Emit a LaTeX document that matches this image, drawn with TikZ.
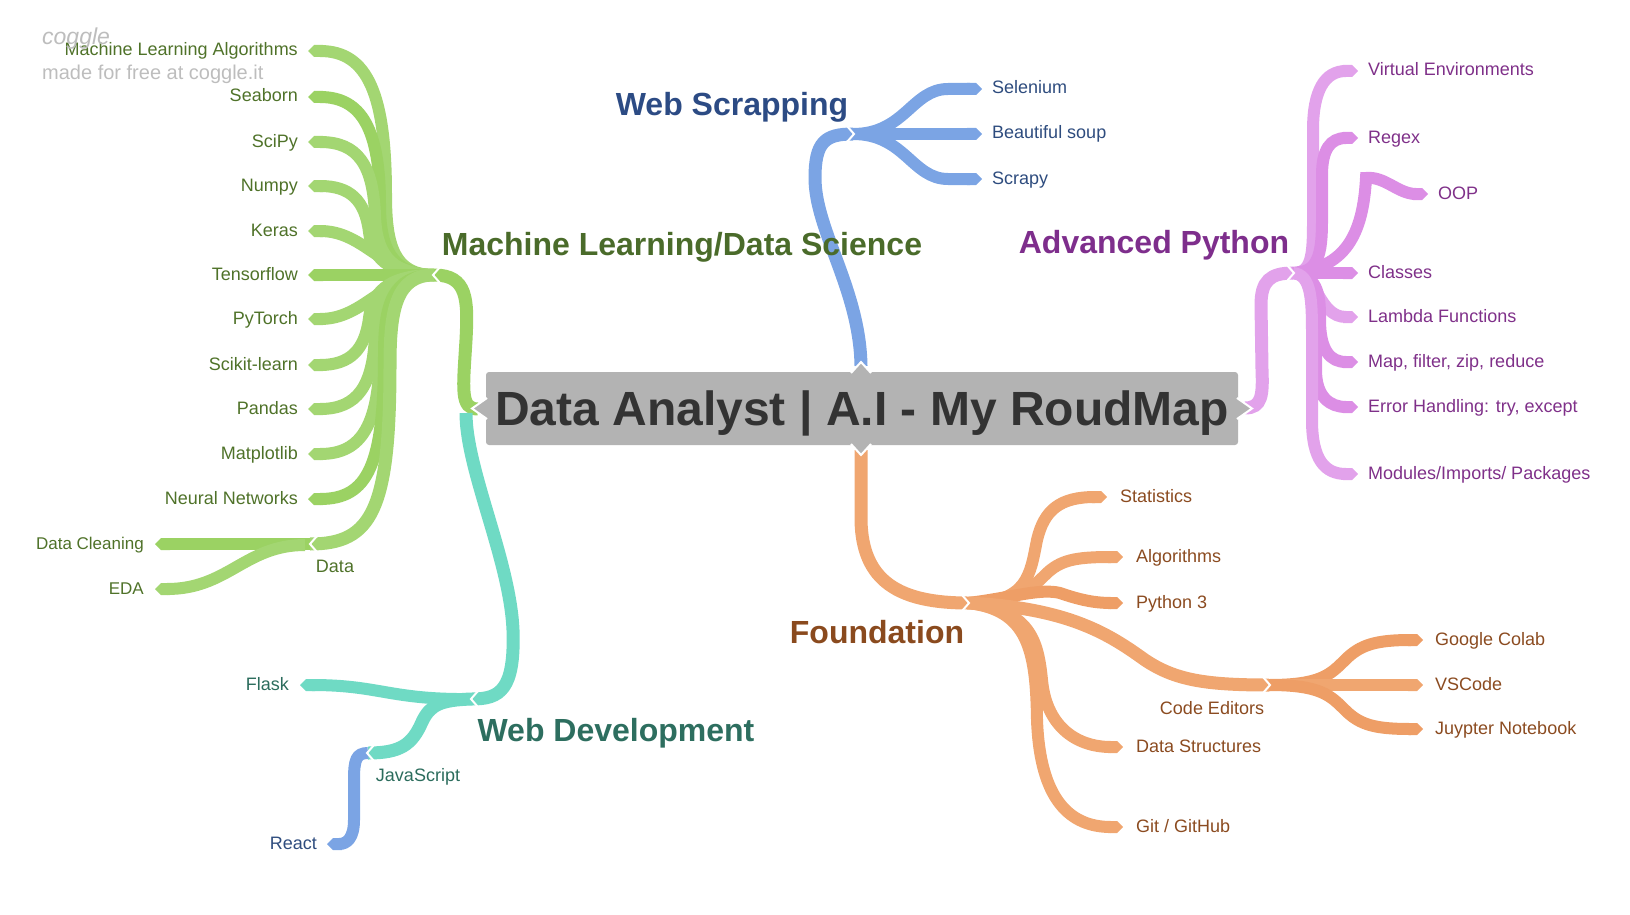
\documentclass[tikz,border=0pt]{standalone}
\usepackage{fontspec}
\setmainfont{Liberation Sans}
\usetikzlibrary{arrows.meta}
\definecolor{mlA}{HTML}{A3D672}
\definecolor{mlB}{HTML}{9BD263}
\definecolor{mltext}{HTML}{4F7229}
\definecolor{mlhead}{HTML}{4A6B2A}
\definecolor{wsA}{HTML}{7BA4E4}
\definecolor{wstext}{HTML}{2E4C7E}
\definecolor{wshead}{HTML}{2C4B84}
\definecolor{apA}{HTML}{E2A2EB}
\definecolor{apB}{HTML}{DC8EE5}
\definecolor{aptext}{HTML}{7F3089}
\definecolor{aphead}{HTML}{7E2E8C}
\definecolor{foA}{HTML}{F0A670}
\definecolor{foB}{HTML}{EE9E66}
\definecolor{fotext}{HTML}{8B4B20}
\definecolor{fohead}{HTML}{8A4A1E}
\definecolor{wdA}{HTML}{6FDAC4}
\definecolor{wdtext}{HTML}{2B6C5C}
\definecolor{wdhead}{HTML}{2D6E5F}
\definecolor{boxgray}{HTML}{B3B3B3}
\definecolor{titlec}{HTML}{333333}
\definecolor{wm}{HTML}{BDBDBD}
\begin{document}
\begin{tikzpicture}[x=1pt,y=-1pt,
  trunk/.style={line width=13pt,line cap=butt},
  leafline/.style={line width=12pt,line cap=butt,-{Triangle Cap[]}},
  lbl/.style={font=\fontsize{18}{20}\selectfont,inner sep=0pt},
  head/.style={font=\bfseries\fontsize{32}{36}\selectfont,inner sep=0pt},
  notch/.style={draw=white,line width=2pt,line join=miter}]
\useasboundingbox (0,0) rectangle (1630,915);

% ---------- coordinates ----------
\coordinate (rootL) at (478,409);
\coordinate (rootL2) at (466,413);
\coordinate (rootR) at (1245,408);
\coordinate (rootT) at (861,366);
\coordinate (rootB) at (861,450);
\coordinate (mlhub) at (434,275);
\coordinate (datahub) at (310,544);
\coordinate (wshub) at (853,134);
\coordinate (aphub) at (1293,273);
\coordinate (fohub) at (968,603);
\coordinate (cehub) at (1269,685);
\coordinate (wdhub) at (472,699);
\coordinate (jshub) at (368,753);

% ---------- Machine learning ----------
\draw[trunk,mlB] (mlhub) .. controls (468,275) and (468,300) .. (466,340) .. controls (463,390) and (460,409) .. (rootL);
\coordinate (e1) at (308,51);
\coordinate (e2) at (308,97);
\coordinate (e3) at (308,142);
\coordinate (e4) at (308,186);
\coordinate (e5) at (308,231);
\coordinate (e6) at (308,275);
\coordinate (e7) at (308,319);
\coordinate (e8) at (308,365);
\coordinate (e9) at (308,409);
\coordinate (e10) at (308,454);
\coordinate (e11) at (308,499);
\draw[leafline,mlA] (mlhub) .. controls (394,275) and (386,245) .. (386,195) .. controls (386,95) and (368,51) .. (e1);
\draw[leafline,mlB] (mlhub) .. controls (390,275) and (380,245) .. (380,205) .. controls (380,130) and (362,97) .. (e2);
\draw[leafline,mlA] (mlhub) .. controls (388,275) and (376,250) .. (375,215) .. controls (373,165) and (358,142) .. (e3);
\draw[leafline,mlA] (mlhub) .. controls (385,275) and (372,255) .. (369,232) .. controls (365,200) and (350,186) .. (e4);
\draw[leafline,mlA] (mlhub) .. controls (382,275) and (365,231) .. (e5);
\draw[leafline,mlB] (mlhub) -- (e6);
\draw[leafline,mlA] (mlhub) .. controls (382,275) and (365,319) .. (e7);
\draw[leafline,mlA] (mlhub) .. controls (385,275) and (372,295) .. (369,318) .. controls (365,350) and (350,365) .. (e8);
\draw[leafline,mlA] (mlhub) .. controls (388,275) and (376,300) .. (375,335) .. controls (373,385) and (358,409) .. (e9);
\draw[leafline,mlA] (mlhub) .. controls (390,275) and (380,305) .. (380,345) .. controls (380,425) and (362,454) .. (e10);
\draw[leafline,mlB] (mlhub) .. controls (392,275) and (384,305) .. (384,355) .. controls (384,465) and (368,499) .. (e11);
\draw[line width=13pt,mlA] (mlhub) .. controls (396,275) and (390,310) .. (390,365) .. controls (390,510) and (372,544) .. (datahub);
\coordinate (dc) at (155,544);
\coordinate (eda) at (155,589);
\draw[leafline,mlB] (datahub) -- (dc);
\draw[leafline,mlA] (305,545) .. controls (245,545) and (228,589) .. (eda);

% ---------- Web scrapping ----------
\draw[trunk,wsA] (rootT) .. controls (860,290) and (815,230) .. (815,178) .. controls (815,142) and (825,134) .. (wshub);
\coordinate (s1) at (982,89);
\coordinate (s2) at (982,134);
\coordinate (s3) at (982,179);
\draw[leafline,wsA] (wshub) .. controls (905,134) and (912,89) .. (948,89) -- (s1);
\draw[leafline,wsA] (wshub) -- (s2);
\draw[leafline,wsA] (wshub) .. controls (905,134) and (912,179) .. (948,179) -- (s3);

% ---------- Advanced Python ----------
\draw[trunk,apA] (rootR) .. controls (1262,408) and (1263,395) .. (1262,370) -- (1261,305) .. controls (1261,281) and (1270,273) .. (aphub);
\coordinate (p1) at (1358,71);
\coordinate (p2) at (1358,138);
\coordinate (p3) at (1428,194);
\coordinate (p4) at (1358,273);
\coordinate (p5) at (1358,317);
\coordinate (p6) at (1358,362);
\coordinate (p7) at (1358,407);
\coordinate (p8) at (1358,474);
\draw[leafline,apA] (aphub) .. controls (1312,273) and (1313,255) .. (1313,220) -- (1313,130) .. controls (1313,90) and (1325,71) .. (p1);
\draw[leafline,apB] (aphub) .. controls (1318,273) and (1322,255) .. (1322,220) -- (1322,175) .. controls (1322,150) and (1330,138) .. (p2);
\draw[leafline,apB] (aphub) .. controls (1345,268) and (1363,235) .. (1366,178) .. controls (1385,176) and (1398,194) .. (p3);
\draw[leafline,apB] (aphub) -- (p4);
\draw[leafline,apA] (aphub) .. controls (1318,273) and (1318,317) .. (p5);
\draw[leafline,apB] (aphub) .. controls (1320,275) and (1320,300) .. (1320,320) .. controls (1320,350) and (1330,362) .. (p6);
\draw[leafline,apB] (aphub) .. controls (1316,275) and (1316,300) .. (1316,330) -- (1316,370) .. controls (1316,397) and (1330,407) .. (p7);
\draw[leafline,apA] (aphub) .. controls (1312,275) and (1312,300) .. (1312,340) -- (1312,420) .. controls (1312,460) and (1325,474) .. (p8);

% ---------- Foundation ----------
\draw[trunk,foA] (rootB) -- (861,520) .. controls (862,582) and (900,603) .. (fohub);
\coordinate (f1) at (1107,497);
\coordinate (f2) at (1123,557);
\coordinate (f3) at (1123,603);
\coordinate (f4) at (1123,747);
\coordinate (f5) at (1123,827);
\coordinate (c1) at (1423,640);
\coordinate (c2) at (1423,685);
\coordinate (c3) at (1423,729);
\draw[leafline,foA] (fohub) .. controls (1028,603) and (1030,575) .. (1037,540) .. controls (1044,510) and (1060,497) .. (f1);
\draw[leafline,foA] (fohub) .. controls (1015,603) and (1030,590) .. (1045,575) .. controls (1060,560) and (1075,557) .. (f2);
\draw[leafline,foB] (fohub) .. controls (1010,598) and (1040,588) .. (1060,593) .. controls (1080,600) and (1095,603) .. (f3);
\draw[trunk,foA] (fohub) .. controls (1070,608) and (1110,635) .. (1145,660) .. controls (1175,680) and (1205,685) .. (cehub);
\draw[leafline,foA] (fohub) .. controls (1030,610) and (1038,640) .. (1042,680) .. controls (1046,725) and (1075,747) .. (f4);
\draw[leafline,foA] (fohub) .. controls (1028,610) and (1036,650) .. (1037,720) .. controls (1040,800) and (1070,827) .. (f5);
\draw[leafline,foB] (cehub) .. controls (1320,685) and (1330,675) .. (1345,660) .. controls (1360,645) and (1375,640) .. (c1);
\draw[leafline,foA] (cehub) -- (c2);
\draw[leafline,foB] (cehub) .. controls (1320,685) and (1330,695) .. (1345,710) .. controls (1360,725) and (1375,729) .. (c3);

% ---------- Web development ----------
\draw[trunk,wdA] (rootL2) .. controls (466,470) and (510,560) .. (513,630) .. controls (515,690) and (500,699) .. (wdhub);
\coordinate (w1) at (300,685);
\coordinate (w3) at (327,844);
\draw[leafline,wdA] (wdhub) .. controls (390,700) and (380,685) .. (w1);
\draw[trunk,wdA] (wdhub) .. controls (440,700) and (430,705) .. (422,722) .. controls (412,745) and (400,753) .. (jshub);
\draw[leafline,wsA] (jshub) .. controls (356,753) and (354,760) .. (354,780) -- (354,820) .. controls (354,838) and (347,844) .. (w3);

% ---------- hub notches ----------
\draw[notch] (440,267) -- (433,275) -- (440,283);
\draw[notch] (317,536) -- (310,544) -- (317,552);
\draw[notch] (847,126) -- (854,134) -- (847,142);
\draw[notch] (1287,265) -- (1294,273) -- (1287,281);
\draw[notch] (962,595) -- (969,603) -- (962,611);
\draw[notch] (1263,677) -- (1270,685) -- (1263,693);
\draw[notch] (478,691) -- (471,699) -- (478,707);
\draw[notch] (374,745) -- (367,753) -- (374,761);

% ---------- root ----------
\node[fill=boxgray,rounded corners=3pt,minimum width=752pt,minimum height=73pt,inner sep=0pt] (root) at (862,408.5) {};
\fill[boxgray] (487,399) -- (472,408.5) -- (487,418) -- cycle;
\draw[notch] (487,398) -- (472,408.5) -- (487,419);
\fill[boxgray] (1237,399) -- (1252,408.5) -- (1237,418) -- cycle;
\draw[notch] (1237,398) -- (1252,408.5) -- (1237,419);
\fill[boxgray] (852,373) -- (861,362) -- (870,373) -- cycle;
\draw[notch] (851,373) -- (861,362) -- (871,373);
\fill[boxgray] (852,444) -- (861,455) -- (870,444) -- cycle;
\draw[notch] (851,444) -- (861,455) -- (871,444);
\node[font=\bfseries\fontsize{48}{50}\selectfont,text=titlec,inner sep=0pt,anchor=base] (title) at (862,425) {Data Analyst | A.I - My RoudMap};

% ---------- texts ----------
\node[lbl,text=mltext,anchor=base east] (t1) at (298,56) {Machine Learning Algorithms};
\node[lbl,text=mltext,anchor=base east] (t2) at (298,102) {Seaborn};
\node[lbl,text=mltext,anchor=base east] (t3) at (298,147) {SciPy};
\node[lbl,text=mltext,anchor=base east] (t4) at (298,191) {Numpy};
\node[lbl,text=mltext,anchor=base east] (t5) at (298,236) {Keras};
\node[lbl,text=mltext,anchor=base east] (t6) at (298,280) {Tensorflow};
\node[lbl,text=mltext,anchor=base east] (t7) at (298,324) {PyTorch};
\node[lbl,text=mltext,anchor=base east] (t8) at (298,370) {Scikit-learn};
\node[lbl,text=mltext,anchor=base east] (t9) at (298,414) {Pandas};
\node[lbl,text=mltext,anchor=base east] (t10) at (298,459) {Matplotlib};
\node[lbl,text=mltext,anchor=base east] (t11) at (298,504) {Neural Networks};
\node[lbl,text=mltext,anchor=base] (tdata) at (335,572.5) {Data};
\node[lbl,text=mltext,anchor=base east,font=\fontsize{17}{19}\selectfont] (tdc) at (144,549) {Data Cleaning};
\node[lbl,text=mltext,anchor=base east,font=\fontsize{17}{19}\selectfont] (teda) at (144,594) {EDA};
\node[head,text=mlhead,anchor=base] (hml) at (682,255) {Machine Learning/Data Science};

\node[lbl,text=wstext,anchor=base west] (ts1) at (992,94) {Selenium};
\node[lbl,text=wstext,anchor=base west] (ts2) at (992,139) {Beautiful soup};
\node[lbl,text=wstext,anchor=base west] (ts3) at (992,184) {Scrapy};
\node[head,text=wshead,anchor=base] (hws) at (732,116) {Web Scrapping};

\node[lbl,text=aptext,anchor=base west] (tp1) at (1368,76) {Virtual Environments};
\node[lbl,text=aptext,anchor=base west] (tp2) at (1368,143) {Regex};
\node[lbl,text=aptext,anchor=base west] (tp3) at (1438,199) {OOP};
\node[lbl,text=aptext,anchor=base west] (tp4) at (1368,278) {Classes};
\node[lbl,text=aptext,anchor=base west] (tp5) at (1368,322) {Lambda Functions};
\node[lbl,text=aptext,anchor=base west] (tp6) at (1368,367) {Map, filter, zip, reduce};
\node[lbl,text=aptext,anchor=base west] (tp7) at (1368,412) {Error Handling: try, except};
\node[lbl,text=aptext,anchor=base west] (tp8) at (1368,479) {Modules/Imports/ Packages};
\node[head,text=aphead,anchor=base] (hap) at (1154,253) {Advanced Python};

\node[lbl,text=fotext,anchor=base west] (tf1) at (1120,502) {Statistics};
\node[lbl,text=fotext,anchor=base west] (tf2) at (1136,562) {Algorithms};
\node[lbl,text=fotext,anchor=base west] (tf3) at (1136,608) {Python 3};
\node[lbl,text=fotext,anchor=base west] (tf4) at (1136,752) {Data Structures};
\node[lbl,text=fotext,anchor=base west] (tf5) at (1136,832) {Git / GitHub};
\node[lbl,text=fotext,anchor=base] (tce) at (1212,714.5) {Code Editors};
\node[lbl,text=fotext,anchor=base west] (tc1) at (1435,645) {Google Colab};
\node[lbl,text=fotext,anchor=base west] (tc2) at (1435,690) {VSCode};
\node[lbl,text=fotext,anchor=base west] (tc3) at (1435,734) {Juypter Notebook};
\node[head,text=fohead,anchor=base] (hfo) at (877,643) {Foundation};

\node[lbl,text=wdtext,anchor=base east] (tw1) at (289,690) {Flask};
\node[lbl,text=wdtext,anchor=base] (tjs) at (418,781.5) {JavaScript};
\node[lbl,text=wstext,anchor=base east] (tw3) at (317,849) {React};
\node[head,text=wdhead,anchor=base] (hwd) at (616,741) {Web Development};

% ---------- watermark ----------
\node[anchor=base west,text=wm,font=\itshape\fontsize{23}{25}\selectfont,inner sep=0pt] (wm1) at (42,45) {coggle};
\node[anchor=base west,text=wm,font=\fontsize{20}{22}\selectfont,inner sep=0pt] (wm2) at (42,80) {made for free at coggle.it};
\end{tikzpicture}
\end{document}
